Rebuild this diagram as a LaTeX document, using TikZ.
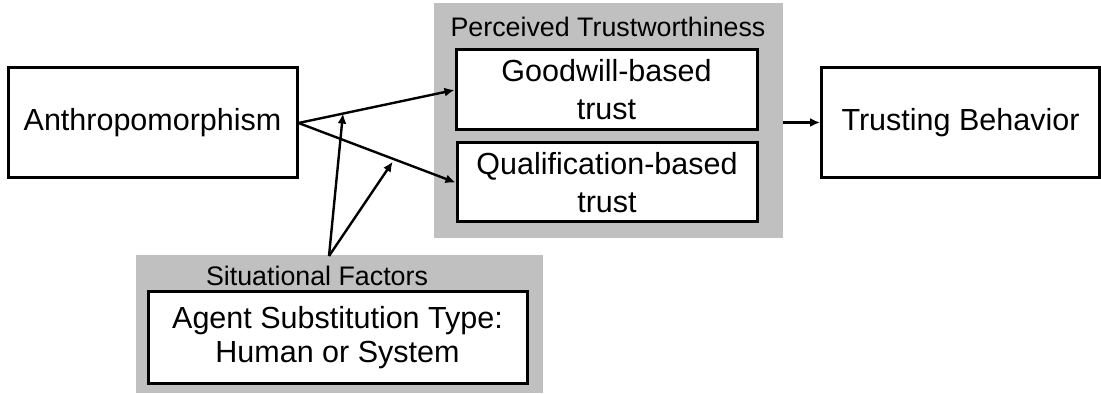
\documentclass[tikz,border=0pt]{standalone}
\usepackage{fontspec}
\setmainfont{Liberation Sans}
\usetikzlibrary{arrows.meta,calc}
\definecolor{bggray}{RGB}{192,192,192}
\tikzset{
  box/.style={draw=black, line width=1.5pt, fill=white, inner sep=0pt, align=center,
    font=\fontsize{15.25pt}{19pt}\selectfont},
  grp/.style={fill=bggray, draw=none, inner sep=0pt},
  lbl/.style={inner sep=0pt, font=\fontsize{13.4pt}{16pt}\selectfont},
  conn/.style={line width=1.2pt, -{Latex[length=5pt,width=4.5pt]}}
}
\begin{document}
\begin{tikzpicture}[x=0.5pt,y=-0.5pt]
\useasboundingbox (0,0) rectangle (1101,394);
% grey groups
\node[grp, minimum width=174.5pt, minimum height=117.5pt] (percbg) at (608.5,120.5) {};
\node[grp, minimum width=203.5pt, minimum height=69pt] (sitbg) at (339.5,324) {};
% labels
\node[lbl] (perclbl) at (608,27) {Perceived Trustworthiness};
\node[lbl] (sitlbl) at (317,276) {Situational Factors};
% boxes
\node[box, minimum width=144.5pt, minimum height=55pt] (anth) at (152.5,123) {Anthropomorphism};
\node[box, minimum width=150.5pt, minimum height=40pt] (good) at (606.5,90) {Goodwill-based\\trust};
\node[box, minimum width=150pt, minimum height=39.5pt] (qual) at (607,182.5) {Qualification-based\\trust};
\node[box, minimum width=139pt, minimum height=55pt] (tb) at (960.5,122.5) {Trusting Behavior};
\node[box, minimum width=189.5pt, minimum height=46pt, font=\fontsize{15.25pt}{17pt}\selectfont] (agent) at (337.5,338) {Agent Substitution Type:\\Human or System};
% connectors
\coordinate (apex) at (329,256);
\draw[conn] (anth.east) -- (good.west);
\draw[conn] (anth.east) -- (qual.west);
\draw[conn] (apex) -- ($(anth.east)!0.285!(good.west)$);
\draw[conn] (apex) -- ($(anth.east)!0.6!(qual.west)+(0,3)$);
\draw[conn] (percbg.east |- tb.west) -- (tb.west);
\end{tikzpicture}
\end{document}
